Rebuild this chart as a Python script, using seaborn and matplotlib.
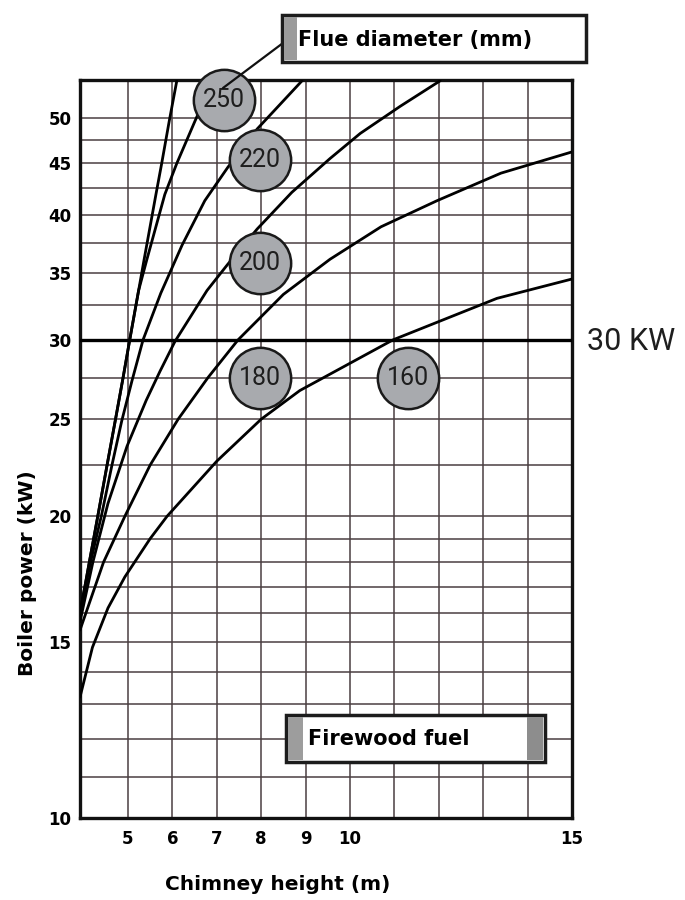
import matplotlib
matplotlib.use("Agg")
import matplotlib.pyplot as plt
import pandas as pd
import seaborn as sns
from matplotlib.patches import Rectangle
from matplotlib.lines import Line2D
from matplotlib.ticker import FixedLocator, NullFormatter

# curves: chimney height (m) -> boiler power (kW)
h_a = [3.92, 4.13, 4.32, 4.53, 4.72, 4.89, 5.04, 5.24, 5.36, 5.63, 5.76, 5.93, 6.10]
p_a = [16.0, 18, 20, 22.5, 25, 27.5, 30, 33.6, 36, 41.9, 45, 49.6, 54.4]
h_b = [3.92, 4.13, 4.32, 4.53, 4.72, 4.89, 5.04, 5.24, 5.42, 5.83, 6.1, 6.51, 6.91]
p_b = [16.0, 18, 20, 22.5, 25, 27.5, 30, 33.6, 36, 41.9, 45, 49.6, 54.4]
h_c = [3.92, 4.17, 4.41, 4.64, 4.86, 5.09, 5.34, 5.74, 6.22, 6.73, 7.25, 7.91, 8.92]
p_c = [16.05, 18.1, 20.1, 22.5, 24.9, 27.3, 30.0, 33.4, 37.3, 41.3, 44.6, 48.7, 54.4]
h_d = [3.92, 4.21, 4.55, 4.98, 5.41, 5.72, 6.06, 6.78, 7.25, 7.91, 8.69, 9.55, 10.23, 11.13, 12.03]
p_d = [15.7, 18.0, 20.6, 23.5, 26.1, 27.9, 29.9, 33.6, 35.7, 38.7, 42.1, 45.5, 48.2, 51.3, 54.4]
h_e = [3.92, 4.45, 4.93, 5.5, 6.13, 6.8, 7.48, 8.5, 9.55, 10.7, 11.96, 13.4, 15.0]
p_e = [15.4, 18, 20, 22.5, 25, 27.5, 30, 33.3, 36.1, 38.9, 41.3, 44.0, 46.2]
h_f = [3.92, 4.2, 4.55, 4.93, 5.5, 5.88, 7.0, 8.0, 8.87, 10.97, 13.31, 15.0]
p_f = [13.2, 14.8, 16.2, 17.4, 19.0, 20.0, 22.7, 25.0, 26.7, 30.0, 33.0, 34.5]

# flue diameter badges
badge_labels = ["250", "220", "200", "180", "160"]
badge_h = [7.16, 7.97, 7.97, 7.97, 11.3]
badge_p = [52.0, 45.4, 35.8, 27.5, 27.5]

y_ticks = [10, 15, 20, 25, 30, 35, 40, 45, 50]
y_minor = [11, 12, 13, 14, 16, 17, 18, 19, 22.5, 27.5, 32.5, 37.5, 42.5, 47.5]
x_ticks = [5, 6, 7, 8, 9, 10, 15]
x_minor = [11, 12, 13, 14]

curves = {"a": (h_a, p_a), "b": (h_b, p_b), "c": (h_c, p_c),
          "d": (h_d, p_d), "e": (h_e, p_e), "f": (h_f, p_f)}
rows = []
for name, (hs, ps) in curves.items():
    for h, p in zip(hs, ps):
        rows.append({"curve": name, "height": h, "power": p})
df = pd.DataFrame(rows)

sns.set_style("white")
plt.rcParams['font.family'] = ['Roboto', 'DejaVu Sans']
plt.rcParams['text.color'] = 'black'
BOLD = "DejaVu Sans"

W, H = 685, 900
def fx(x):
    return x / W
def fy(y):
    return 1 - y / H

fig = plt.figure(figsize=(6.85, 9), dpi=100)
ax = fig.add_axes([fx(80), fy(818), (572 - 80) / W, (818 - 80) / H])

sns.lineplot(data=df, x="height", y="power", units="curve", estimator=None,
             sort=False, color="black", lw=2, ax=ax, legend=False, zorder=3)

ax.set_yscale("log")
ax.set_xlim(3.92, 15)
ax.set_ylim(10, 54.5)
ax.set_yticks(y_ticks)
ax.set_yticklabels([str(v) for v in y_ticks])
ax.yaxis.set_minor_locator(FixedLocator(y_minor))
ax.yaxis.set_minor_formatter(NullFormatter())
ax.set_xticks(x_ticks)
ax.set_xticklabels([str(v) for v in x_ticks])
ax.xaxis.set_minor_locator(FixedLocator(x_minor))
ax.set_xlabel("")
ax.set_ylabel("")
ax.set_axisbelow(True)
ax.grid(True, which="both", color="#4a3e41", lw=1.1)
ax.tick_params(which="both", length=0, labelcolor="black")
ax.tick_params(axis="y", pad=6)
ax.tick_params(axis="x", pad=9)
for lab in ax.get_xticklabels() + ax.get_yticklabels():
    lab.set_fontfamily(BOLD)
    lab.set_fontweight("bold")
    lab.set_fontsize(12)
for s in ax.spines.values():
    s.set_linewidth(2.4)
    s.set_color("#111111")

ax.axhline(30, color="black", lw=2.4, zorder=3)

ax.scatter(badge_h, badge_p, s=1950, facecolor="#a8aaae", edgecolor="#1a1a1a",
           lw=1.8, zorder=5, clip_on=False)
for lab, h, p in zip(badge_labels, badge_h, badge_p):
    ax.text(h, p, lab, ha="center", va="center", fontsize=18, color="#1e1e1e",
            zorder=6)

fig.text(fx(587), fy(342), "30 KW", fontsize=22, ha="left", va="center",
         color="#1e1e1e")

fig.text(fx(28), fy(573), "Boiler power (kW)", rotation=90, fontsize=14.5,
         fontweight="bold", family=BOLD, ha="center", va="center")
fig.text(fx(278), fy(885), "Chimney height (m)", fontsize=14.5,
         fontweight="bold", family=BOLD, ha="center", va="center")

# title boxes
def box(x0, y0, x1, y1, strips):
    fig.add_artist(Rectangle((fx(x0), fy(y1)), (x1 - x0) / W, (y1 - y0) / H,
                             transform=fig.transFigure, facecolor="white",
                             edgecolor="#1c1c1c", lw=2.5, zorder=4))
    for sx0, sx1, c in strips:
        fig.add_artist(Rectangle((fx(sx0), fy(y1 - 2)), (sx1 - sx0) / W,
                                 (y1 - y0 - 4) / H, transform=fig.transFigure,
                                 facecolor=c, edgecolor="none", zorder=4))

box(282, 15, 586, 62, [(284, 297, "#9b9b9b")])
fig.text(fx(298), fy(40), "Flue diameter (mm)", fontsize=15, fontweight="bold",
         family=BOLD, ha="left", va="center", zorder=5)
fig.add_artist(Line2D([fx(287), fx(223)], [fy(40), fy(88)],
                      transform=fig.transFigure, color="#111111", lw=1.6))

box(286, 715, 545, 762, [(288, 303, "#9d9d9d"), (527, 543, "#8d8d8d")])
fig.text(fx(308), fy(739), "Firewood fuel", fontsize=15, fontweight="bold",
         family=BOLD, ha="left", va="center", zorder=5)

fig.savefig("out.png", dpi=100)
